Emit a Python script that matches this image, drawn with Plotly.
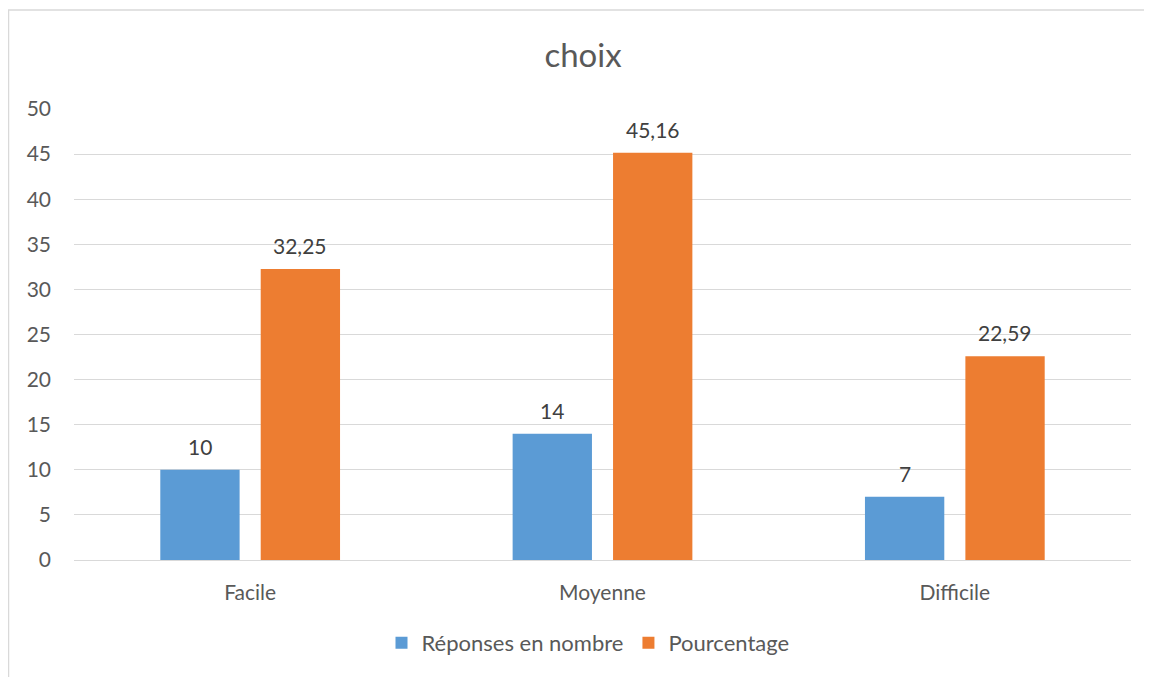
import plotly.graph_objects as go

categories = ["Facile", "Moyenne", "Difficile"]
reponses = [10, 14, 7]
pourcentage = [32.25, 45.16, 22.59]
reponses_labels = ["10", "14", "7"]
pourcentage_labels = ["32,25", "45,16", "22,59"]
y_ticks = [0, 5, 10, 15, 20, 25, 30, 35, 40, 45, 50]

FONT = "Lato, Carlito, 'Open Sans', sans-serif"
OFF = 8  # page offset of the figure

W, H = 1152 - OFF, 677 - OFF
L, T = 74 - OFF, 109 - OFF
R = W - (1131 - OFF)
B = H - (560 - OFF)
pw = W - L - R
ph = H - T - B

def px2x(p):
    return (p - OFF - L) / pw

def py2y(p):
    return (H - B - (p - OFF)) / ph

fig = go.Figure()
fig.add_trace(go.Bar(
    x=categories, y=reponses, name="Réponses en nombre",
    marker=dict(color="#5B9BD5", line=dict(width=0)),
))
fig.add_trace(go.Bar(
    x=categories, y=pourcentage, name="Pourcentage",
    marker=dict(color="#ED7D31", line=dict(width=0)),
))

bargap, bargroupgap = 0.43, 0.21
slot_px = pw / len(categories) * (1 - bargap) / 2
annotations = []
for series, labels, sign in [(reponses, reponses_labels, -1), (pourcentage, pourcentage_labels, 1)]:
    for c, v, t in zip(categories, series, labels):
        annotations.append(dict(
            x=c, y=v, text=t, showarrow=False, xref="x", yref="y",
            xshift=sign * slot_px / 2, yshift=9, yanchor="bottom", xanchor="center",
            font=dict(size=21, color="#404040", family=FONT),
        ))

fig.update_layout(
    width=W, height=H,
    margin=dict(l=L, r=R, t=T, b=B),
    paper_bgcolor="white", plot_bgcolor="white",
    barmode="group", bargap=bargap, bargroupgap=bargroupgap,
    font=dict(family=FONT, color="#595959", size=21),
    title=dict(text="choix", x=(583 - OFF) / W, xanchor="center", y=1 - (55 - OFF) / H, yanchor="middle",
               font=dict(size=33, color="#595959", family=FONT)),
    xaxis=dict(showgrid=False, showline=False, ticks="", tickfont=dict(size=21, color="#595959"),
               ticklabelstandoff=18),
    yaxis=dict(range=[0, 50], tickvals=y_ticks, showgrid=True, gridcolor="#D9D9D9", gridwidth=1.3,
               zeroline=True, zerolinecolor="#D9D9D9", zerolinewidth=1.3, showline=False,
               ticks="", tickfont=dict(size=21, color="#595959"), ticklabelstandoff=22),
    legend=dict(orientation="h", x=px2x(588), xanchor="center", y=py2y(643), yanchor="middle",
                font=dict(size=22, color="#595959"), itemwidth=30, traceorder="normal"),
    showlegend=True,
    annotations=annotations,
    shapes=[
        dict(type="line", xref="paper", yref="paper", x0=px2x(8.5), x1=px2x(8.5), y0=py2y(10), y1=py2y(677 + 20),
             line=dict(color="#D9D9D9", width=1.5)),
        dict(type="line", xref="paper", yref="paper", x0=px2x(8), x1=px2x(1152 + 20), y0=py2y(10), y1=py2y(10),
             line=dict(color="#D9D9D9", width=1.5)),
    ],
)

fig.write_html("out.html")
